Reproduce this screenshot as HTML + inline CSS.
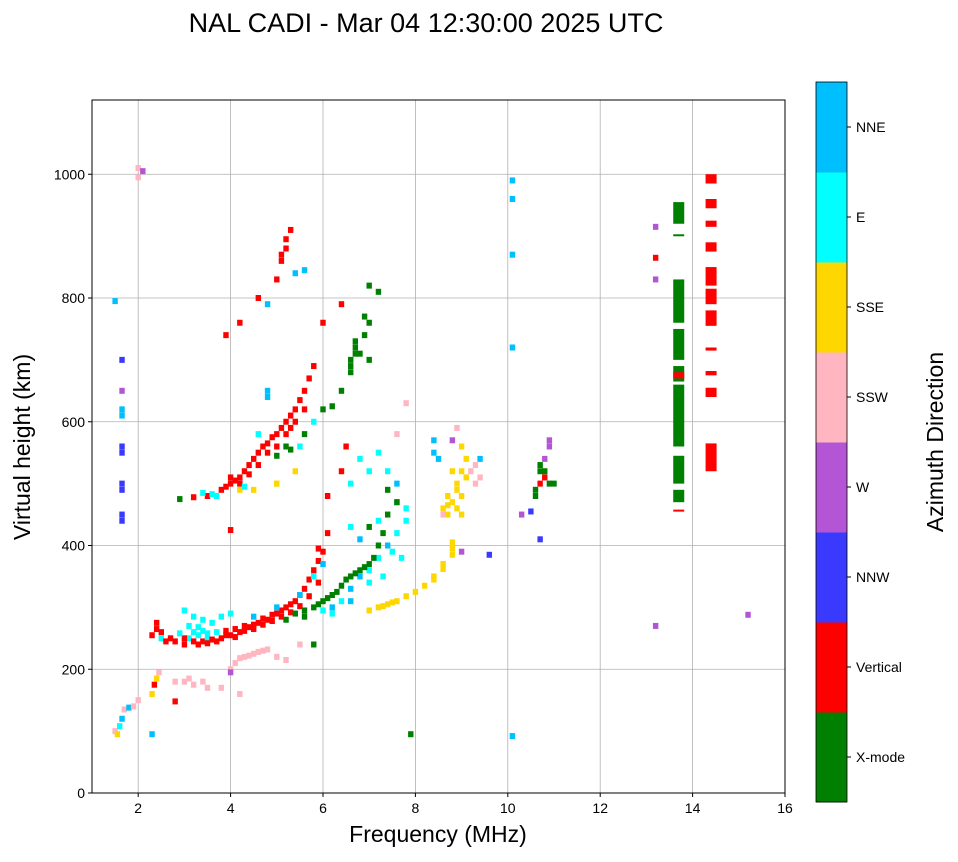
<!DOCTYPE html>
<html><head><meta charset="utf-8">
<style>
body{margin:0;background:#fff;font-family:"Liberation Sans",sans-serif;}
svg text{font-family:"Liberation Sans",sans-serif;}
</style></head>
<body>
<svg width="958" height="857" viewBox="0 0 958 857">
<text x="426" y="32" font-size="27" text-anchor="middle">NAL CADI - Mar 04 12:30:00 2025 UTC</text>
<g id="grid"></g>
<g id="marks"></g>
<rect x="92" y="100" width="693" height="693" fill="none" stroke="#000" stroke-width="1"/>
<g id="axes"></g>
<text x="438" y="842" font-size="23" text-anchor="middle">Frequency (MHz)</text>
<text transform="translate(30,447) rotate(-90)" font-size="23" text-anchor="middle">Virtual height (km)</text>
<g id="cbar"></g>
<text transform="translate(943,442) rotate(-90)" font-size="23" text-anchor="middle">Azimuth Direction</text>
</svg>
<script>
const xTicks=[2,4,6,8,10,12,14,16];
const yTicks=[0,200,400,600,800,1000];
const dirNames=["X-mode","Vertical","NNW","W","SSW","SSE","E","NNE"];
const dirColors=["#008000","#ff0000","#3a3aff","#b455d6","#ffb6c1","#ffd700","#00ffff","#00bfff"];
// echoes: [freq MHz, height km, direction index]
const echoes=[
[1.5,100,4],[1.55,95,5],[1.6,108,6],[1.65,120,7],[1.7,135,4],[1.8,138,7],[1.9,140,4],[2.0,150,4],[2.0,1010,4],[2.0,995,4],[2.1,1005,3],[1.65,440,2],[1.65,450,2],[1.65,490,2],[1.65,500,2],[1.65,550,2],[1.65,560,2],[1.65,610,7],[1.65,620,7],[1.65,650,3],[1.65,700,2],[1.5,795,7],
[2.3,160,5],[2.35,175,1],[2.4,185,5],[2.45,195,4],[2.3,95,7],[2.3,255,1],[2.4,265,1],[2.5,250,6],[2.6,245,1],[2.8,245,1],[2.8,148,1],[2.4,275,1],[2.5,260,1],[2.7,250,1],
[3.0,240,1],[3.1,250,6],[3.2,245,1],[3.3,255,6],[3.4,245,1],[3.5,250,6],[3.6,248,1],[3.7,260,6],[3.8,250,1],[3.9,262,1],[4.0,255,1],[4.1,265,1],[4.2,260,1],[4.3,270,1],[4.4,268,1],[4.5,272,1],[4.6,275,1],[4.7,282,1],[4.8,280,1],[4.9,288,1],[5.0,290,1],[5.1,295,1],[5.2,300,1],[5.3,305,1],[5.4,310,1],[5.5,320,1],[5.6,330,1],[5.7,345,1],[5.8,360,1],[5.9,375,1],[6.0,390,1],[6.1,420,1],[6.1,480,1],
[3.0,250,1],[3.3,240,1],[3.5,242,1],[3.7,245,1],[3.9,255,1],[4.1,252,1],[4.3,262,1],[4.5,265,1],[4.7,272,1],[4.9,278,1],[5.1,285,1],[5.3,292,1],[5.5,302,1],[5.7,318,1],[5.9,340,1],[4.0,425,1],[5.9,395,1],
[3.0,295,6],[3.2,285,6],[3.4,280,6],[3.6,275,6],[3.8,285,6],[4.0,290,6],[3.2,260,6],[3.4,262,6],[3.1,270,6],[3.3,268,6],[3.5,258,6],[2.9,258,6],[4.5,285,7],[5.0,300,7],[5.5,320,7],[5.8,350,6],[6.0,370,7],[6.2,300,7],[6.4,310,6],[6.6,330,7],[6.8,350,7],[7.0,360,6],[7.2,380,6],[7.4,400,7],[7.6,420,6],[7.8,440,6],[7.8,460,6],[6.6,430,6],[6.8,410,7],[6.0,295,6],[6.2,290,6],[6.6,310,7],[7.0,340,6],[7.3,350,6],[7.5,390,6],[7.7,380,6],[7.2,440,6],[7.6,470,7],
[5.2,280,0],[5.4,290,0],[5.6,295,0],[5.8,300,0],[6.0,310,0],[6.2,320,0],[6.4,335,0],[6.6,350,0],[6.8,360,0],[7.0,370,0],[7.2,400,0],[7.4,450,0],[7.6,470,0],[5.8,240,0],[7.9,95,0],[5.6,285,0],[5.9,305,0],[6.1,315,0],[6.3,325,0],[6.5,345,0],[6.7,355,0],[6.9,365,0],[7.1,380,0],[7.3,420,0],[7.0,430,0],[7.4,490,0],
[7.0,295,5],[7.2,300,5],[7.4,305,5],[7.6,310,5],[7.8,318,5],[8.0,325,5],[8.2,335,5],[8.4,350,5],[8.6,362,5],[8.8,385,5],[8.8,405,5],[8.6,460,5],[8.7,480,5],[8.8,470,5],[8.9,500,5],[9.0,450,5],[9.0,480,5],[9.0,520,5],[9.1,540,5],[8.8,520,5],[8.4,550,7],[8.4,570,7],[8.8,570,3],[9.0,390,3],[9.3,500,4],[9.3,530,4],[9.4,540,7],[8.6,450,4],[8.9,590,4],[9.0,560,5],[8.4,345,5],[8.6,370,5],[8.8,395,5],[8.7,465,5],[8.9,490,5],[9.1,510,5],[8.7,450,5],[8.9,460,5],[9.2,520,4],[9.4,510,4],[8.5,540,7],[7.3,302,5],[7.5,308,5],[5.0,500,5],[4.2,490,5],
[2.8,180,4],[3.0,180,4],[3.2,175,4],[3.5,170,4],[3.8,170,4],[4.0,200,4],[4.1,210,4],[4.2,218,4],[4.4,222,4],[4.6,228,4],[4.8,232,4],[5.0,220,4],[5.2,215,4],[5.5,240,4],[4.2,160,4],[4.0,195,3],[3.1,185,4],[3.4,180,4],[4.3,220,4],[4.5,225,4],[4.7,230,4],
[2.9,475,0],[3.2,478,1],[3.5,480,1],[3.6,483,6],[3.8,490,1],[4.0,500,1],[4.1,505,1],[4.2,510,1],[4.3,520,1],[4.4,530,1],[4.5,540,1],[4.6,550,1],[4.7,560,1],[4.8,565,1],[4.9,575,1],[5.0,580,1],[5.1,590,1],[5.2,600,1],[5.3,610,1],[5.4,620,1],[5.5,635,1],[5.6,650,1],[5.7,670,1],[5.8,690,1],[4.5,490,5],[5.0,500,5],[5.4,520,5],[4.6,580,6],[4.8,640,7],[4.8,650,7],[5.2,560,0],[5.6,580,0],[5.8,600,6],
[3.9,495,1],[4.0,510,1],[4.2,500,1],[4.4,515,1],[4.6,530,1],[4.8,550,1],[5.0,560,1],[5.2,580,1],[5.4,600,1],[5.6,620,1],[5.3,590,1],[3.4,485,6],[3.7,480,6],[4.3,495,6],[5.0,545,0],[5.3,555,0],[5.5,560,6],
[3.9,740,1],[4.2,760,1],[4.6,800,1],[4.8,790,7],[5.0,830,1],[5.1,860,1],[5.2,880,1],[5.3,910,1],[5.4,840,7],[5.6,845,7],[6.4,790,1],[6.0,760,1],[5.1,870,1],[5.2,895,1],
[6.0,620,0],[6.2,625,0],[6.4,650,0],[6.6,680,0],[6.6,700,0],[6.7,720,0],[6.8,710,0],[6.9,740,0],[7.0,760,0],[7.0,700,0],[7.2,810,0],[7.0,820,0],[6.5,560,1],[6.4,520,1],[6.6,500,6],[6.8,540,6],[7.0,520,6],[7.2,550,6],[7.4,520,6],[7.6,500,7],[7.6,580,4],[7.8,630,4],[6.6,690,0],[6.7,710,0],[6.9,770,0],[6.7,730,0],
[10.1,990,7],[10.1,960,7],[10.1,870,7],[10.1,720,7],[10.1,92,7],[10.3,450,3],[10.5,455,2],[10.7,410,2],[10.6,480,0],[10.7,500,1],[10.7,520,0],[10.8,510,1],[10.8,540,3],[10.9,500,0],[10.9,560,3],[10.9,570,3],[9.6,385,2],[10.6,490,0],[10.7,530,0],[10.8,520,0],[11.0,500,0],
[13.2,915,3],[13.2,865,1],[13.2,830,3],[13.2,270,3],[15.2,288,3]
];
// column echoes: [freq, low km, high km, direction]
const columns=[
[13.7,920,955,0],[13.7,900,903,0],[13.7,760,830,0],[13.7,700,750,0],[13.7,665,690,0],[13.7,560,660,0],[13.7,670,680,1],[13.7,500,545,0],[13.7,470,490,0],[13.7,455,458,1],
[14.4,985,1000,1],[14.4,945,960,1],[14.4,915,925,1],[14.4,875,890,1],[14.4,820,850,1],[14.4,790,815,1],[14.4,755,780,1],[14.4,715,720,1],[14.4,675,682,1],[14.4,640,655,1],[14.4,520,565,1]
];
const X0=92,X1=785,Y0=793,Y1=100;
const xs=f=>X0+(f-1)/15*(X1-X0);
const ys=h=>Y0-h/1120*(Y0-Y1);
const NS="http://www.w3.org/2000/svg";
function mk(tag,attrs,parent){const e=document.createElementNS(NS,tag);for(const k in attrs)e.setAttribute(k,attrs[k]);parent.appendChild(e);return e;}
const grid=document.getElementById('grid'),axes=document.getElementById('axes'),marks=document.getElementById('marks'),cbar=document.getElementById('cbar');
xTicks.forEach(t=>{const x=xs(t);
 const g=mk('line',{x1:x,x2:x,y1:Y1,y2:Y0,stroke:'#b0b0b0','stroke-width':0.8},grid);
 
 mk('line',{x1:x,x2:x,y1:Y0,y2:Y0+4,stroke:'#000'},axes);
 const tx=mk('text',{x:x,y:Y0+20,'font-size':14,'text-anchor':'middle'},axes);tx.textContent=t;
 });
yTicks.forEach(t=>{const y=ys(t);
 const g=mk('line',{x1:X0,x2:X1,y1:y,y2:y,stroke:'#b0b0b0','stroke-width':0.8},grid);
 
 mk('line',{x1:X0-4,x2:X0,y1:y,y2:y,stroke:'#000'},axes);
 const tx=mk('text',{x:X0-7,y:y+5,'font-size':14,'text-anchor':'end'},axes);tx.textContent=t;
 });
echoes.forEach(p=>{const w=5.4,h=6;
 const r=mk('rect',{x:xs(p[0])-w/2,y:ys(p[1])-h/2,width:w,height:h,fill:dirColors[p[2]]},marks);
 });
columns.forEach(c=>{const w=11;const y=ys(c[2]);const h=Math.max(2,ys(c[1])-y);
 const r=mk('rect',{x:xs(c[0])-w/2,y:y,width:w,height:h,fill:dirColors[c[3]]},marks);
 });
const CB0=82,CB1=802,segH=(CB1-CB0)/dirNames.length;
dirNames.forEach((n,i)=>{const y=CB1-(i+1)*segH;
 const r=mk('rect',{x:816,y:y,width:31,height:segH+0.5,fill:dirColors[i]},cbar);
 
 mk('line',{x1:847,x2:851,y1:y+segH/2,y2:y+segH/2,stroke:'#000'},cbar);
 const tx=mk('text',{x:856,y:y+segH/2+5,'font-size':14},cbar);tx.textContent=n;
 });
mk('rect',{x:816,y:CB0,width:31,height:CB1-CB0,fill:'none',stroke:'#000','stroke-width':0.8},cbar);
</script>
</body></html>
